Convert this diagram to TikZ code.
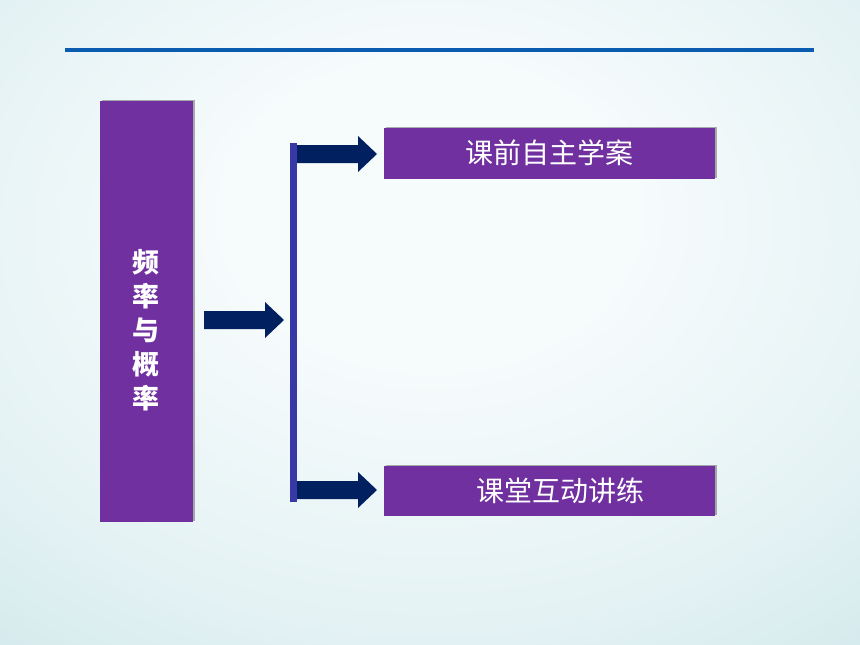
\documentclass[tikz,border=0pt]{standalone}
\usepackage{fontspec}
\newfontfamily\cjk{Noto Sans CJK SC}
\usetikzlibrary{calc,shadows}
\definecolor{boxpurple}{RGB}{112,48,160}
\definecolor{arrownavy}{RGB}{0,32,96}
\definecolor{barblue}{RGB}{56,56,166}
\definecolor{topline}{RGB}{10,92,176}
\definecolor{bgin}{RGB}{246,251,252}
\definecolor{bgmid}{RGB}{228,242,244}
\definecolor{bgout}{RGB}{196,226,229}
\pgfdeclareradialshading{bgshade}{\pgfpoint{0bp}{10bp}}{color(0bp)=(bgin); color(12bp)=(bgin); color(30bp)=(bgmid); color(50bp)=(bgout); color(80bp)=(bgout)}
\tikzset{
  purplebox/.style={fill=boxpurple, draw=none, inner sep=0pt,
    drop shadow={shadow xshift=1.5pt, shadow yshift=1.5pt, opacity=0.45, fill=black!70}},
  boxtext/.style={text=white, inner sep=0pt, font=\cjk\fontsize{28}{34}\selectfont},
  navy/.style={fill=arrownavy},
}
\newcommand\blockarrow[2]{\fill[navy] ($(#1)+(0,9)$) -- ($(#2)+(-19,9)$) -- ($(#2)+(-19,18)$) -- (#2) -- ($(#2)+(-19,-18)$) -- ($(#2)+(-19,-9)$) -- ($(#1)+(0,-9)$) -- cycle;}
\begin{document}
\begin{tikzpicture}[x=1pt,y=-1pt]
\useasboundingbox (0,0) rectangle (860,645);
\shade[shading=bgshade] (0,0) rectangle (860,645);
% top line
\fill[topline] (65,48) rectangle (814,52);
% left box
\node[purplebox, minimum width=93pt, minimum height=421pt, anchor=north west] (main) at (100,101) {};
\node[boxtext, font=\cjk\bfseries\fontsize{27}{34}\selectfont, align=center] (title) at (146,330) {频\\率\\与\\概\\率};
% right boxes
\node[purplebox, minimum width=331pt, minimum height=51pt, anchor=north west] (b1) at (384,128) {};
\node[boxtext] (t1) at (549,153) {课前自主学案};
\node[purplebox, minimum width=331pt, minimum height=50pt, anchor=north west] (b2) at (384,466) {};
\node[boxtext] (t2) at (560,491) {课堂互动讲练};
% vertical bar
\fill[barblue] (290,143) rectangle (297,502);
\coordinate (bartop) at (297,154);
\coordinate (barbot) at (297,490);
\coordinate (lstart) at (204,320);
\coordinate (lend) at (284,320);
\coordinate (t1end) at (377,154);
\coordinate (t2end) at (377,490);
\blockarrow{lstart}{lend}
\blockarrow{bartop}{t1end}
\blockarrow{barbot}{t2end}
\end{tikzpicture}
\end{document}
